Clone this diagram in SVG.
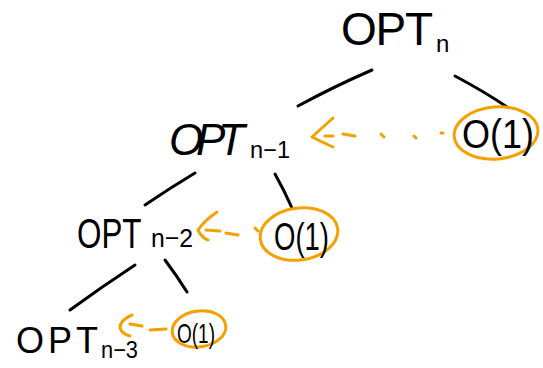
<svg xmlns="http://www.w3.org/2000/svg" width="543" height="368" viewBox="0 0 543 368">
  <style>
    .t { font-family: "Liberation Sans", Arial, sans-serif; fill: #000; }
    .edge { fill: none; stroke: #000; stroke-width: 3; stroke-linecap: round; }
    .ring { fill: none; stroke: #f4a000; stroke-width: 3; }
    .arr { fill: none; stroke: #f4a000; stroke-width: 3; stroke-linecap: round; stroke-linejoin: round; }
  </style>
  <rect width="543" height="368" fill="#fff"/>

  <g id="connectors">
    <path class="edge" d="M372,70 Q335,86 298,106"/>
    <path class="edge" d="M455,76 Q485,92 507,107"/>
    <path class="edge" d="M195,173 Q170,188 145,205"/>
    <path class="edge" d="M275,174 Q284,190 292,208"/>
    <path class="edge" d="M135,265 Q103,286 70,310"/>
    <path class="edge" d="M165,260 Q177,276 187,292"/>
    <!-- orange dashed arrows -->
    <path class="arr" d="M333,118 Q322,128 312,137 Q322,142 333,147"/>
    <path class="arr" d="M325,136 L333,136 M343,134 L355,136 M381,134 L384,137 M414,136 L416,138 M441,133 L443,133"/>
    <path class="arr" d="M217,212 Q205,220 198,230 Q202,238 208,240"/>
    <path class="arr" d="M206,230 L220,231 M226,233 L238,235 M255,228 L258,231"/>
    <path class="arr" d="M132,315 Q120,320 120,328 Q122,334 130,336"/>
    <path class="arr" d="M130,324 L142,326 M150,330 L166,329"/>
  </g>

  <g id="opt-n">
    <text class="t" x="341" y="45" font-size="46" textLength="92" lengthAdjust="spacing">OPT</text>
    <text class="t" x="436" y="52" font-size="24">n</text>
  </g>

  <g id="opt-n-1">
    <text class="t" x="169" y="155" font-size="44" font-style="italic" textLength="76" lengthAdjust="spacing">OPT</text>
    <text class="t" x="250" y="158" font-size="24" textLength="40" lengthAdjust="spacingAndGlyphs">n−1</text>
  </g>

  <g id="opt-n-2">
    <text class="t" transform="translate(77 248) scale(0.73 1)" font-size="43">OPT</text>
    <text class="t" x="151" y="247" font-size="26" textLength="42" lengthAdjust="spacingAndGlyphs">n−2</text>
  </g>

  <g id="opt-n-3">
    <text class="t" x="16" y="353" font-size="36" textLength="82" lengthAdjust="spacing">OPT</text>
    <text class="t" x="101" y="358" font-size="24" textLength="37" lengthAdjust="spacingAndGlyphs">n−3</text>
  </g>

  <g id="o1-top">
    <ellipse class="ring" cx="496" cy="133" rx="42" ry="26" transform="rotate(-5 496 133)"/>
    <text class="t" x="462" y="148" font-size="40" textLength="72" lengthAdjust="spacingAndGlyphs">O(1)</text>
  </g>

  <g id="o1-mid">
    <ellipse class="ring" cx="299" cy="234" rx="39" ry="26" transform="rotate(-8 299 234)"/>
    <text class="t" x="274" y="250" font-size="38" textLength="55" lengthAdjust="spacingAndGlyphs">O(1)</text>
  </g>

  <g id="o1-bot">
    <ellipse class="ring" cx="199" cy="329" rx="27" ry="18" transform="rotate(-8 199 329)"/>
    <text class="t" x="177" y="343" font-size="28" textLength="38" lengthAdjust="spacingAndGlyphs">O(1)</text>
  </g>
</svg>
